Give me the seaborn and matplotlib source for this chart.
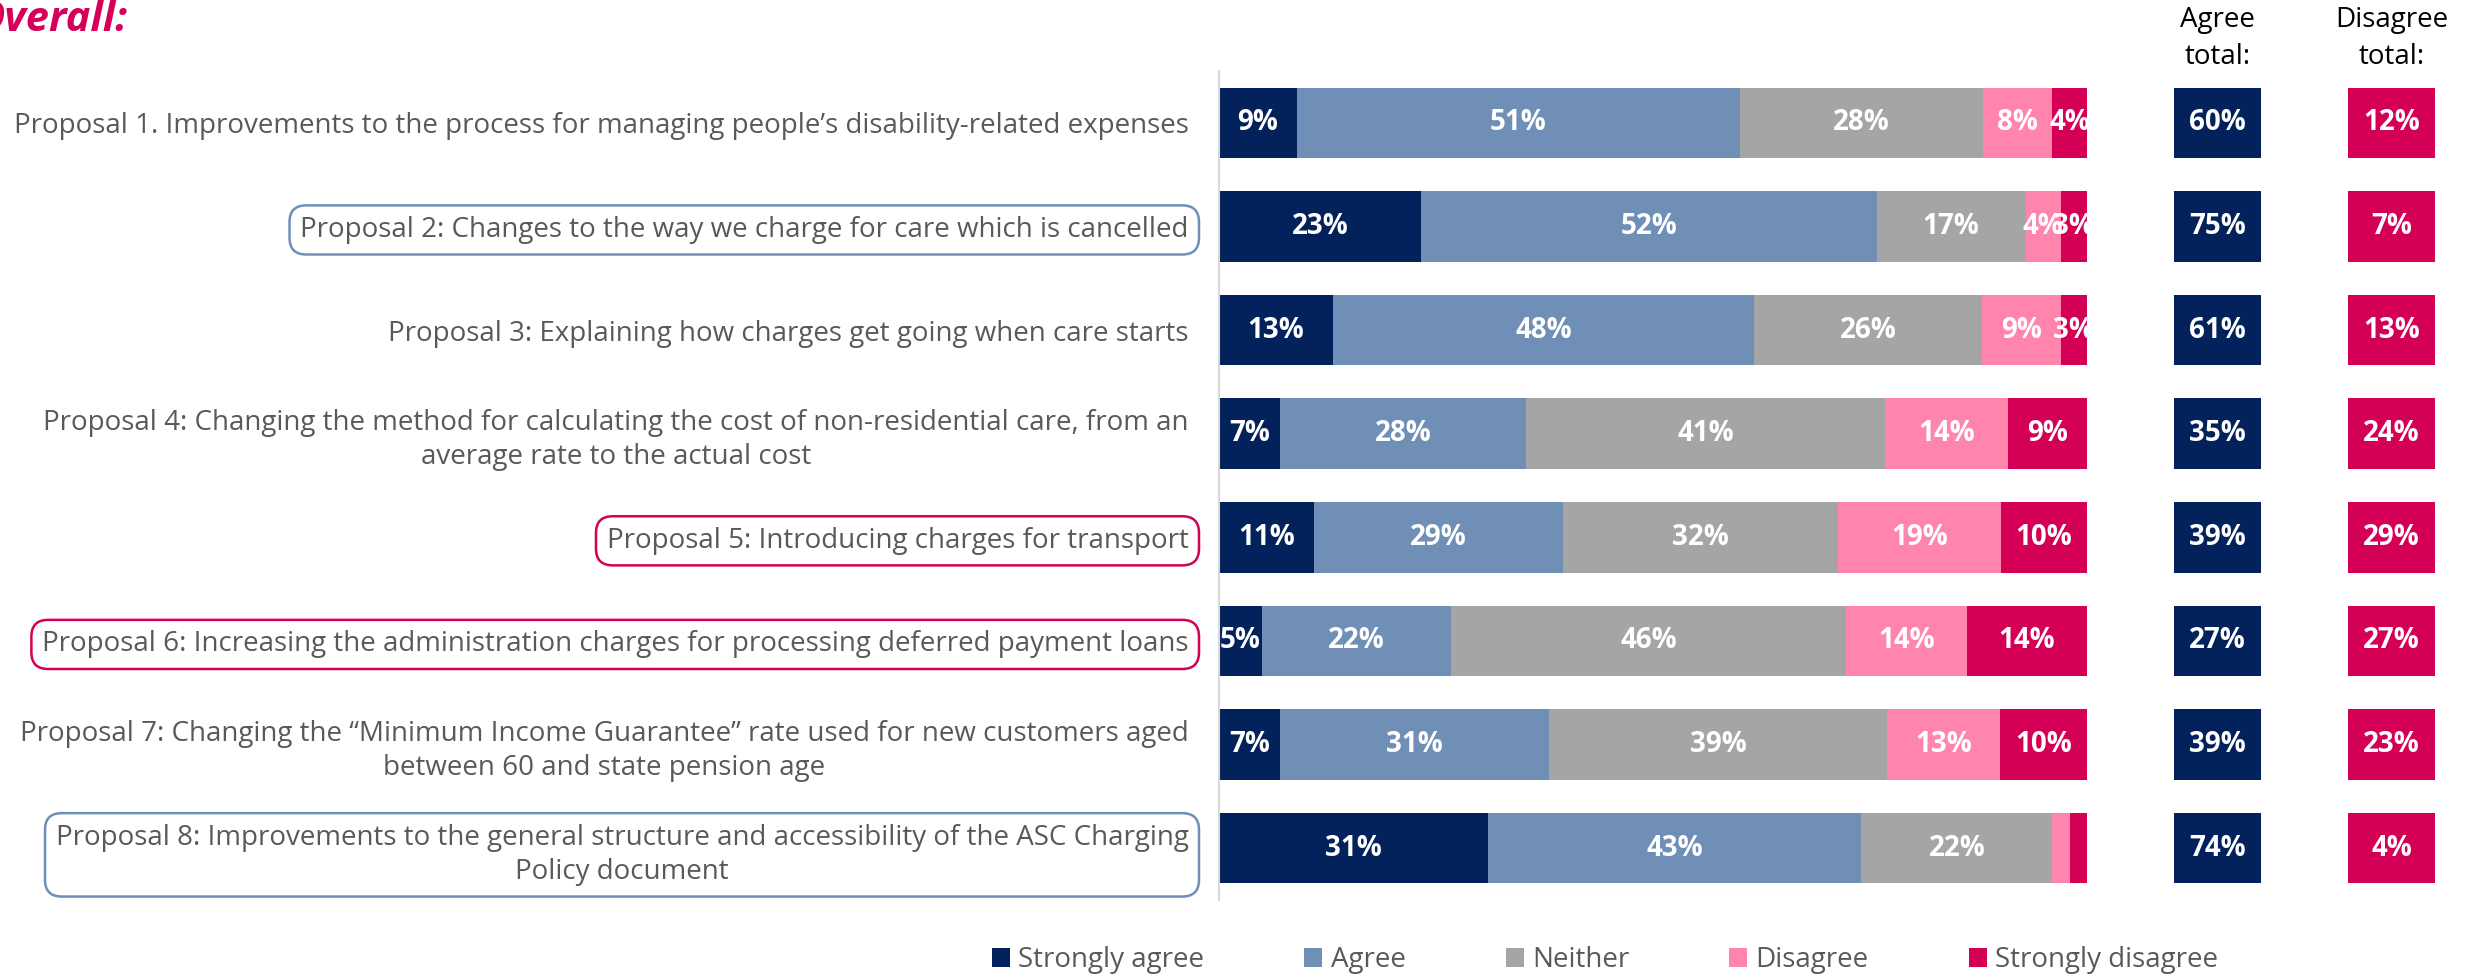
import numpy as np
import pandas as pd
import matplotlib
matplotlib.use("Agg")
import matplotlib.pyplot as plt
from matplotlib.patches import Patch
import seaborn as sns

# ---------------- data ----------------
proposals = [
    "Proposal 1. Improvements to the process for managing people\u2019s disability-related expenses",
    "Proposal 2: Changes to the way we charge for care which is cancelled",
    "Proposal 3: Explaining how charges get going when care starts",
    "Proposal 4: Changing the method for calculating the cost of non-residential care, from an\naverage rate to the actual cost",
    "Proposal 5: Introducing charges for transport",
    "Proposal 6: Increasing the administration charges for processing deferred payment loans",
    "Proposal 7: Changing the \u201cMinimum Income Guarantee\u201d rate used for new customers aged\nbetween 60 and state pension age",
    "Proposal 8: Improvements to the general structure and accessibility of the ASC Charging\nPolicy document",
]
strongly_agree    = [9, 23, 13, 7, 11, 5, 7, 31]
agree             = [51, 52, 48, 28, 29, 22, 31, 43]
neither           = [28, 17, 26, 41, 32, 46, 39, 22]
disagree          = [8, 4, 9, 14, 19, 14, 13, 2]
strongly_disagree = [4, 3, 3, 9, 10, 14, 10, 2]
agree_total       = [60, 75, 61, 35, 39, 27, 39, 74]
disagree_total    = [12, 7, 13, 24, 29, 27, 23, 4]
series_names = ["Strongly agree", "Agree", "Neither", "Disagree", "Strongly disagree"]
highlight = {1: "#6F8FB7", 4: "#D40055", 5: "#D40055", 7: "#6F8FB7"}

colors = ["#03215B", "#6F8FB7", "#A5A5A5", "#FF85AD", "#D40055"]
label_color = "#595959"
title_color = "#D6005B"

# ---------------- style ----------------
sns.set_theme(style="white")
plt.rcParams["font.family"] = ["Open Sans", "DejaVu Sans"]

fig = plt.figure(figsize=(24.83, 9.8), dpi=100)
W, H = 2483, 980

def fx(px):
    return px / W

def fy(px):
    return 1 - px / H

ax_top, ax_bot = 71, 900
ax = fig.add_axes([fx(1219), fy(ax_bot), fx(2087 - 1219), (ax_bot - ax_top) / H])

df = pd.DataFrame({
    "proposal": proposals,
    "Strongly agree": strongly_agree,
    "Agree": agree,
    "Neither": neither,
    "Disagree": disagree,
    "Strongly disagree": strongly_disagree,
})
vals = df[series_names].to_numpy(dtype=float)
share = vals / vals.sum(axis=1, keepdims=True) * 100
cum = np.cumsum(share, axis=1)

bar_w = 0.68
# stacked bars: draw cumulative totals from the last series to the first
for k in range(len(series_names) - 1, -1, -1):
    sns.barplot(x=cum[:, k], y=df["proposal"], orient="h", color=colors[k],
                width=bar_w, linewidth=0, saturation=1, ax=ax)

for i in range(len(proposals)):
    for k in range(len(series_names)):
        v = vals[i, k]
        if v >= 3:
            center = cum[i, k] - share[i, k] / 2
            ax.text(center, i, f"{int(v)}%", ha="center", va="center",
                    color="white", fontsize=20, fontweight="bold")

ax.set_xlim(0, 100)
ax.set_ylim(len(proposals) - 0.5, -0.5)
ax.set_xlabel("")
ax.set_ylabel("")
ax.set_xticks([])
for s in ["top", "right", "bottom"]:
    ax.spines[s].set_visible(False)
ax.spines["left"].set_color("#D9D9D9")
ax.spines["left"].set_linewidth(1.5)
ax.tick_params(axis="y", length=0, pad=22, labelsize=20, labelcolor=label_color)
for i, t in enumerate(ax.get_yticklabels()):
    t.set_multialignment("center")
    t.set_linespacing(1.3)
    if i in highlight:
        t.set_bbox(dict(boxstyle="round,pad=0.38,rounding_size=0.6",
                        facecolor="white", edgecolor=highlight[i], linewidth=1.8))

# ---------------- totals columns ----------------
def totals_axis(x0, x1, values, color, header):
    a = fig.add_axes([fx(x0), fy(ax_bot), fx(x1 - x0), (ax_bot - ax_top) / H])
    box = np.ones(len(values))
    sns.barplot(x=box, y=df["proposal"], orient="h", color=color,
                width=bar_w, linewidth=0, saturation=1, ax=a)
    for i, v in enumerate(values):
        a.text(0.5, i, f"{v}%", ha="center", va="center", color="white",
               fontsize=20, fontweight="bold")
    a.set_xlim(0, 1)
    a.set_ylim(len(values) - 0.5, -0.5)
    a.axis("off")
    fig.text(fx((x0 + x1) / 2), fy(6), header, ha="center", va="top",
             fontsize=20, color="black", linespacing=1.45)

totals_axis(2174, 2261, agree_total, colors[0], "Agree\ntotal:")
totals_axis(2348, 2435, disagree_total, colors[4], "Disagree\ntotal:")

# ---------------- title ----------------
fig.text(fx(127), fy(0), "Overall:", ha="right", va="top", fontsize=30,
         fontweight="bold", fontstyle="italic", color=title_color)

# ---------------- legend ----------------
handles = [Patch(facecolor=c, edgecolor="none", label=n) for c, n in zip(colors, series_names)]
leg = fig.legend(handles=handles, loc="center", bbox_to_anchor=(fx(1605), fy(960)),
                 ncol=5, frameon=False, fontsize=20, handlelength=0.65, handleheight=0.65,
                 handletextpad=0.3, columnspacing=3.6)
for t in leg.get_texts():
    t.set_color(label_color)

fig.savefig("out.png", dpi=100)
